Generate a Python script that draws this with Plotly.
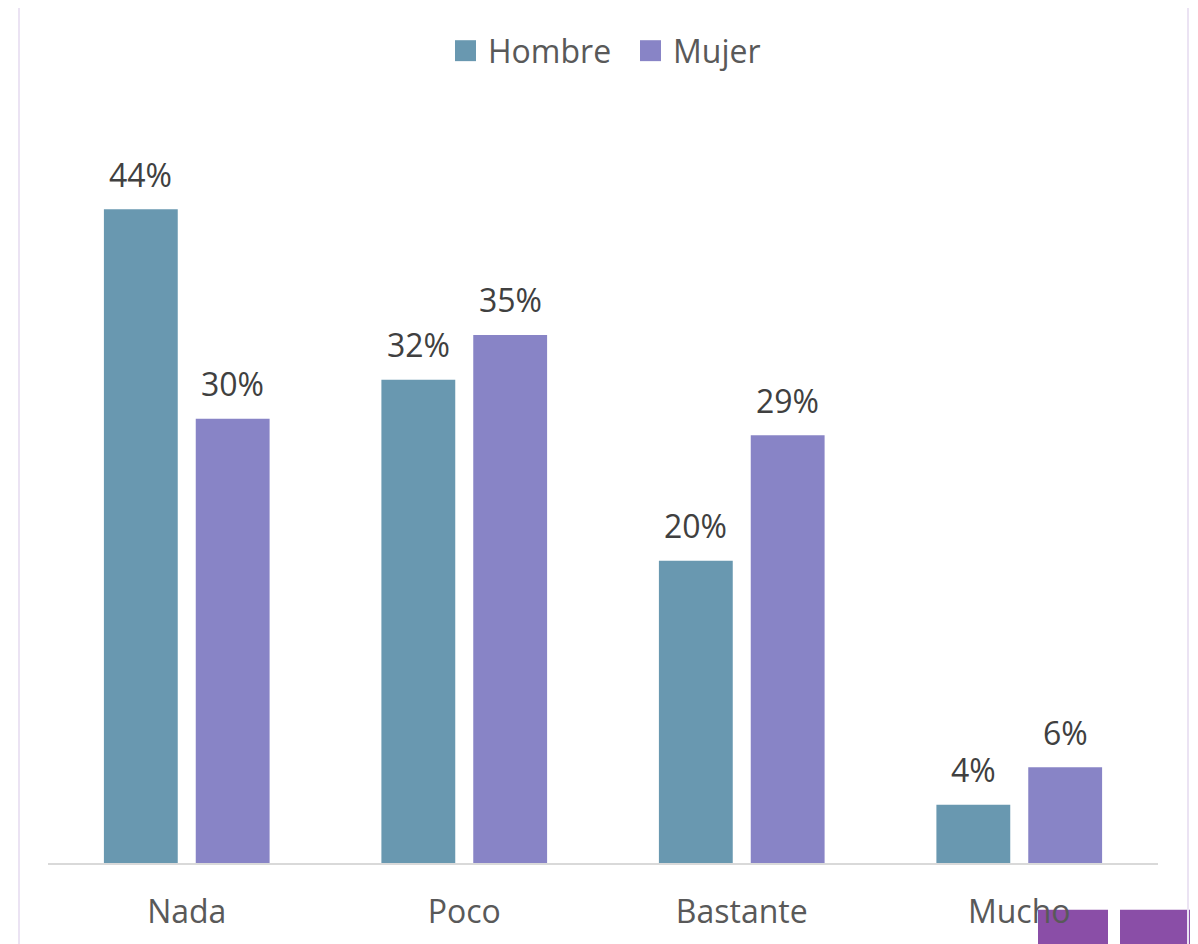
import plotly.graph_objects as go

categories = ["Nada", "Poco", "Bastante", "Mucho"]
series_names = ["Hombre", "Mujer"]
hombre = [43.7, 32.3, 20.2, 3.9]
mujer = [29.7, 35.3, 28.6, 6.4]

COLORS = ["#6998b0", "#8884c6"]
TEXT = "#404040"
LEGEND_TEXT = "#595959"
FONT = "Open Sans"

# plot area in page pixels
PX0, PY0, PW, PH = 48, 112, 1110, 750


def px(x):
    return (x - PX0) / PW


def py(y):
    return (PY0 + PH - y) / PH


fig = go.Figure()
for i, (name, vals) in enumerate(zip(series_names, [hombre, mujer])):
    fig.add_trace(
        go.Bar(
            x=categories,
            y=vals,
            name=name,
            marker=dict(color=COLORS[i], line=dict(width=0)),
            showlegend=False,
        )
    )
    # value labels above the bars
    for cat, v in zip(categories, vals):
        fig.add_annotation(
            x=cat, y=v, xref="x", yref="y",
            text=f"{v:.0f}%", showarrow=False,
            xshift=-46 if i == 0 else 46, yshift=35, yanchor="middle",
            font=dict(size=32, color=TEXT, family=FONT),
        )

# hand-drawn legend
for i, (name, sx, tx) in enumerate(zip(series_names, [455, 640], [486, 671])):
    fig.add_shape(type="rect", xref="paper", yref="paper",
                  x0=px(sx), x1=px(sx + 21), y0=py(58), y1=py(37),
                  line=dict(width=0), fillcolor=COLORS[i])
    fig.add_annotation(x=px(tx), y=py(47), xref="paper", yref="paper",
                       text=name, showarrow=False, xanchor="left", yanchor="middle",
                       font=dict(size=32, color=LEGEND_TEXT, family=FONT))

# outer frame and decorative squares
fig.add_shape(type="rect", xref="paper", yref="paper",
              x0=px(19), x1=px(1188), y0=py(960), y1=py(3),
              line=dict(color="#ebe3f3", width=2), fillcolor="rgba(0,0,0,0)")
for x0, x1 in [(1038, 1108), (1120, 1210)]:
    fig.add_shape(type="rect", xref="paper", yref="paper",
                  x0=px(x0), x1=px(x1), y0=py(960), y1=py(909),
                  line=dict(width=0), fillcolor="#8a4ea7", layer="below")

fig.update_layout(
    width=1190,
    height=936,
    margin=dict(l=40, r=40, t=107, b=79),
    paper_bgcolor="white",
    plot_bgcolor="rgba(0,0,0,0)",
    font=dict(family=FONT, color=TEXT),
    barmode="group",
    bargap=0.338,
    bargroupgap=0.196,
    showlegend=False,
    xaxis=dict(
        showline=True, linecolor="#d9d9d9", linewidth=2, showgrid=False,
        tickfont=dict(size=32, color=LEGEND_TEXT, family=FONT),
        ticks="", ticklabelstandoff=20,
    ),
    yaxis=dict(range=[0, 50], visible=False, showgrid=False),
)

fig.write_html("out.html")
